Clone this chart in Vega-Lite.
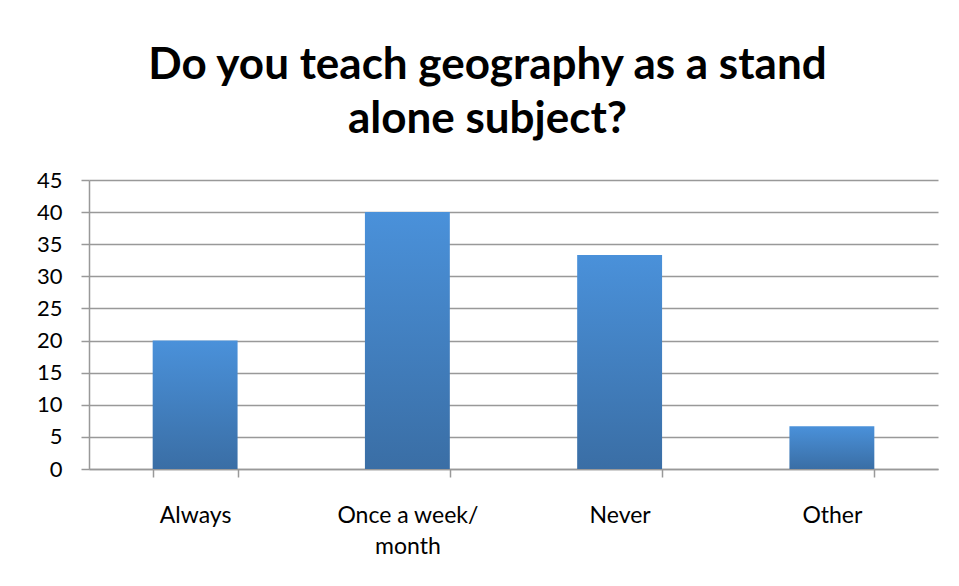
{
  "$schema": "https://vega.github.io/schema/vega-lite/v6.json",
  "width": 849,
  "height": 289,
  "autosize": {"type": "none"},
  "padding": {"left": 89, "top": 180, "right": 21, "bottom": 117},
  "background": "white",
  "title": {
    "text": ["Do you teach geography as a stand", "alone subject?"],
    "font": "Lato",
    "fontSize": 44,
    "fontWeight": "bold",
    "color": "#000000",
    "anchor": "middle",
    "lineHeight": 54,
    "dx": -26,
    "offset": -8,
    "baseline": "alphabetic"
  },
  "data": {
    "values": [
      {"answer": "Always", "percent": 20},
      {"answer": "Once a week/ month", "percent": 40},
      {"answer": "Never", "percent": 33.33},
      {"answer": "Other", "percent": 6.67}
    ]
  },
  "mark": {
    "type": "bar",
    "color": {
      "gradient": "linear",
      "x1": 0, "y1": 0, "x2": 0, "y2": 1,
      "stops": [
        {"offset": 0, "color": "#4A91DA"},
        {"offset": 1, "color": "#3A6EA5"}
      ]
    }
  },
  "encoding": {
    "x": {
      "field": "answer",
      "type": "nominal",
      "sort": null,
      "scale": {"paddingInner": 0.6, "paddingOuter": 0.3},
      "axis": {
        "title": null,
        "labelAngle": 0,
        "labelFont": "Lato",
        "labelFontSize": 23,
        "labelColor": "#000000",
        "labelPadding": 45,
        "labelLineHeight": 31,
        "labelBaseline": "alphabetic",
        "labelExpr": "datum.label == 'Once a week/ month' ? ['Once a week/', 'month'] : datum.label",
        "tickBand": "extent",
        "tickSize": 8,
        "tickColor": "#999999",
        "tickWidth": 1.5,
        "domainColor": "#999999",
        "domainWidth": 1.5,
        "grid": false
      }
    },
    "y": {
      "field": "percent",
      "type": "quantitative",
      "scale": {"domain": [0, 45], "nice": false},
      "axis": {
        "title": null,
        "values": [0, 5, 10, 15, 20, 25, 30, 35, 40, 45],
        "labelFont": "Lato",
        "labelFontSize": 22,
        "labelColor": "#000000",
        "labelPadding": 19,
        "tickSize": 8,
        "tickColor": "#999999",
        "tickWidth": 1.5,
        "domainColor": "#999999",
        "domainWidth": 1.5,
        "grid": true,
        "gridColor": "#999999",
        "gridWidth": 1.5
      }
    }
  },
  "config": {
    "view": {"stroke": null}
  }
}
